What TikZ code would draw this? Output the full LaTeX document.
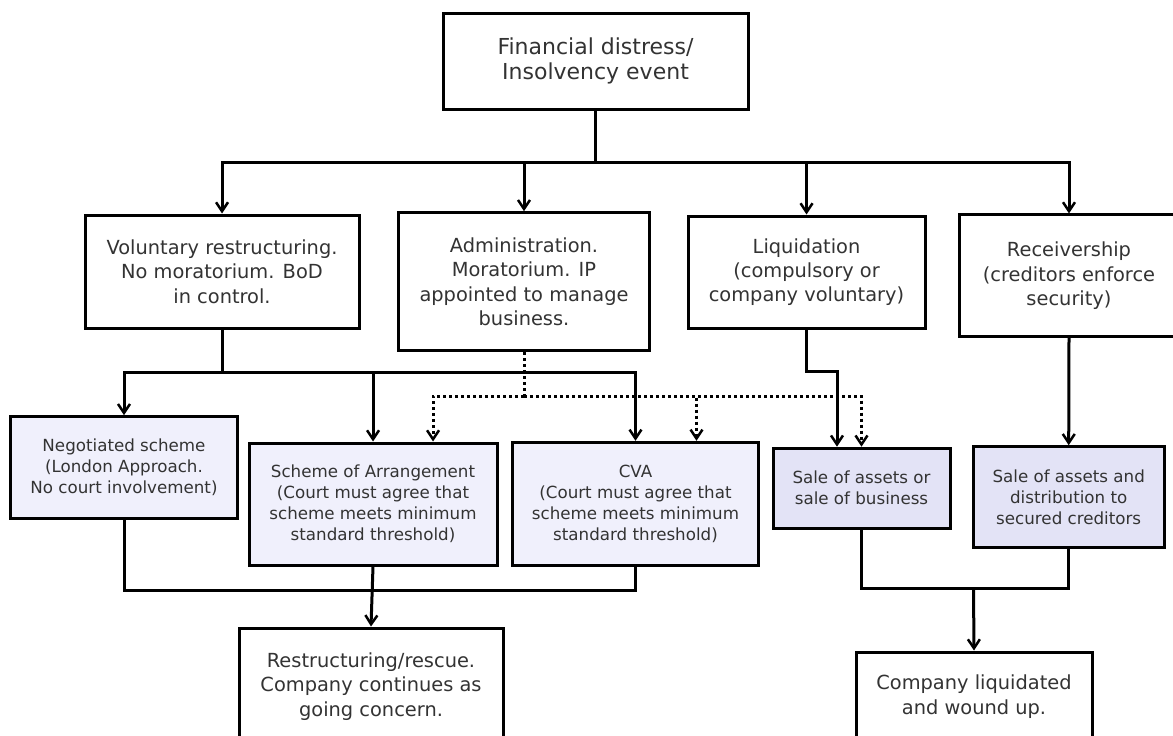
\documentclass[tikz,border=0pt]{standalone}
\usepackage{fontspec}
\setmainfont{DejaVu Sans}
\usetikzlibrary{arrows.meta,calc}
\definecolor{txt}{HTML}{333333}
\definecolor{fillA}{HTML}{F0F0FC}
\definecolor{fillB}{HTML}{E3E3F6}
\tikzset{
  box/.style={draw=black, line width=3pt, align=center, inner sep=0pt, text=txt},
  bigfont/.style={font=\fontsize{22}{25}\selectfont},
  midfont/.style={font=\fontsize{19.4}{24.3}\selectfont},
  smallfont/.style={font=\fontsize{16.7}{21}\selectfont},
  conn/.style={line width=3pt, draw=black},
  arr/.style={conn, -{Straight Barb[length=9pt,width=12pt,line width=2.5pt]}},
  dotline/.style={conn, dash pattern=on 3pt off 3pt},
  dotarr/.style={dotline, -{Straight Barb[length=9pt,width=12pt,line width=2.5pt]}}
}
\begin{document}
\begin{tikzpicture}[x=1pt,y=-1pt]
\useasboundingbox[fill=white] (0,0) rectangle (1173,736);

% top
\node[box, bigfont, minimum width=305pt, minimum height=96pt] (top) at (595.5,61) {Financial distress/\\Insolvency event};

% row 2
\node[box, midfont, minimum width=274pt, minimum height=113pt] (vol) at (222,271.5) {Voluntary restructuring.\\No moratorium. BoD\\in control.};
\node[box, midfont, minimum width=250.5pt, minimum height=138pt] (admin) at (524,281.7) {Administration.\\Moratorium. IP\\appointed to manage\\business.};
\node[box, midfont, minimum width=237pt, minimum height=112pt] (liq) at (806.5,272) {Liquidation\\(compulsory or\\company voluntary)};
\node[box, midfont, minimum width=220pt, minimum height=121.7pt] (rec) at (1069,275.8) {Receivership\\(creditors enforce\\security)};

% row 3
\node[box, smallfont, fill=fillA, minimum width=227.5pt, minimum height=101.6pt] (neg) at (124,467.5) {Negotiated scheme\\(London Approach.\\No court involvement)};
\node[box, smallfont, fill=fillA, minimum width=248pt, minimum height=122pt] (soa) at (373,504) {Scheme of Arrangement\\(Court must agree that\\scheme meets minimum\\standard threshold)};
\node[box, smallfont, fill=fillA, minimum width=246pt, minimum height=122.7pt] (cva) at (635.5,503.7) {CVA\\(Court must agree that\\scheme meets minimum\\standard threshold)};
\node[box, smallfont, fill=fillB, minimum width=177pt, minimum height=80pt] (sale1) at (861.5,488.2) {Sale of assets or\\sale of business};
\node[box, smallfont, fill=fillB, minimum width=191pt, minimum height=101pt] (sale2) at (1068.7,497.2) {Sale of assets and\\distribution to\\secured creditors};

% bottom
\node[box, midfont, minimum width=264pt, minimum height=113pt, text depth=0pt] (restr) at (371,684.5) {Restructuring/rescue.\\Company continues as\\going concern.};
\node[box, midfont, minimum width=236pt, minimum height=89pt] (comp) at (974,696.5) {Company liquidated\\and wound up.};

% coordinates
\coordinate (b1) at (595.5,162);
\coordinate (j2) at (222,372);
\coordinate (j3) at (524,396);
\coordinate (j4) at (373,590);
\coordinate (j5) at (973.5,588);

% top fan-out
\draw[conn] (top.south) -- (b1);
\draw[arr] (b1) -| (vol.north);
\draw[arr] (b1) -| (admin.north);
\draw[arr] (b1) -| (liq.north);
\draw[arr] (b1) -| (rec.north);

% voluntary
\draw[conn] (vol.south) -- (j2);
\draw[arr] (j2) -| (neg.north);
\draw[arr] (j2) -| (soa.north);
\draw[arr] (j2) -| (cva.north);

% administration (dotted)
\draw[dotline] (admin.south) -- (j3);
\draw[dotarr] (j3) -| ([xshift=60pt]soa.north);
\draw[dotarr] (j3) -| ([xshift=61pt]cva.north);
\draw[dotarr] (j3) -| (sale1.north);

% liquidation
\draw[arr] (liq.south) -- ++(0,42) -| ([xshift=-24.5pt]sale1.north);

% receivership
\draw[arr] (rec.south) -- (sale2.north);

% bottom left
\draw[conn] (neg.south) -- (neg.south |- j4) -- (cva.south |- j4) -- (cva.south);
\draw[arr] (soa.south) -- (restr.north);

% bottom right
\draw[conn] (sale1.south) -- (sale1.south |- j5) -- (sale2.south |- j5) -- (sale2.south);
\draw[arr] (j5) -- (comp.north);
\end{tikzpicture}
\end{document}
